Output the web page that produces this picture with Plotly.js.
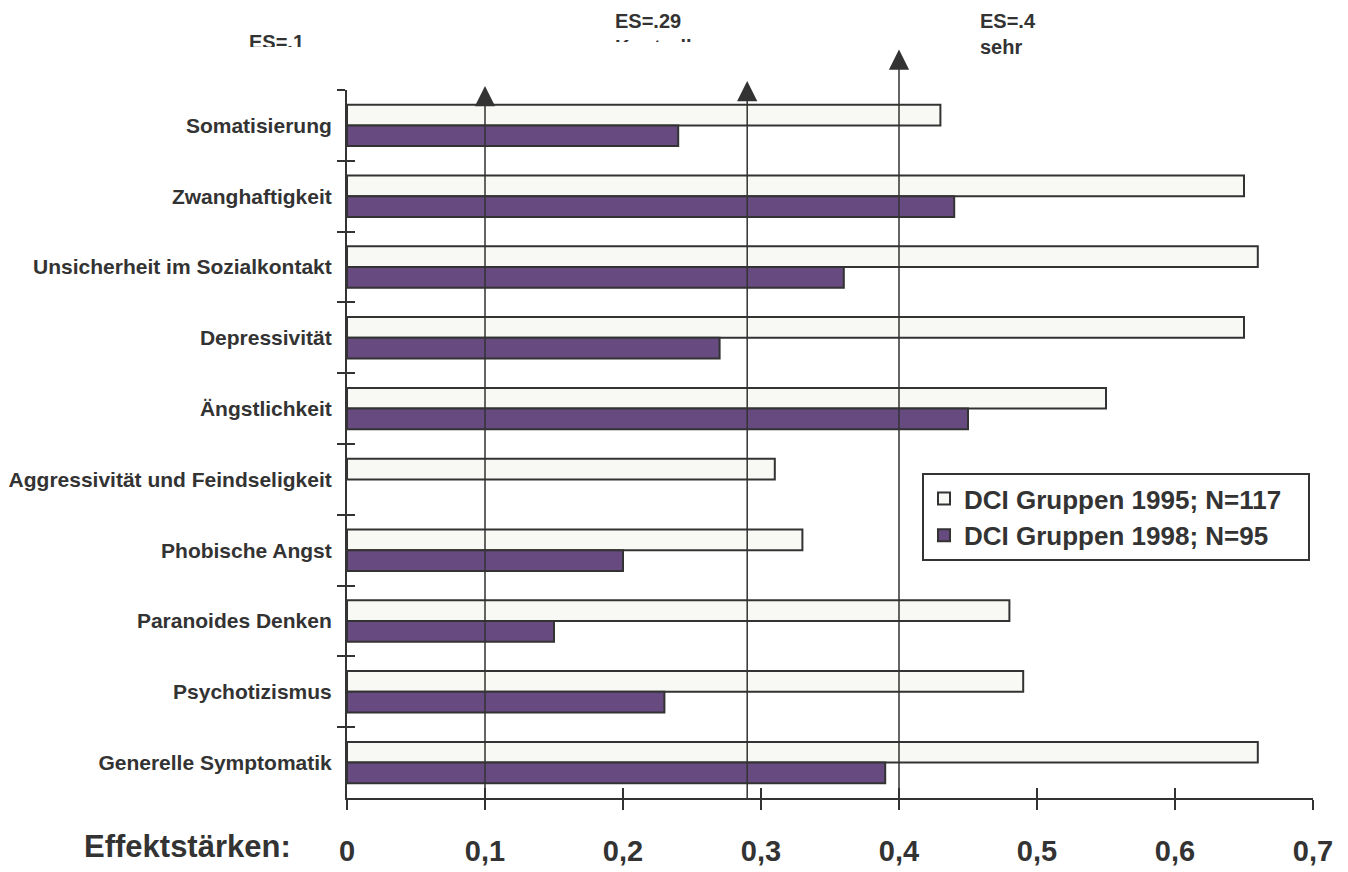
<!DOCTYPE html>
<html>
<head>
<meta charset="utf-8">
<script src="https://cdn.plot.ly/plotly-3.0.1.min.js"></script>
<style>
  html, body { margin: 0; padding: 0; background: #ffffff; }
  #chart { width: 1348px; height: 872px; }
</style>
</head>
<body>
<div id="chart"></div>
<script>
// SCL-90 subscales, top to bottom
const categories = [
  'Somatisierung',
  'Zwanghaftigkeit',
  'Unsicherheit im Sozialkontakt',
  'Depressivität',
  'Ängstlichkeit',
  'Aggressivität und Feindseligkeit',
  'Phobische Angst',
  'Paranoides Denken',
  'Psychotizismus',
  'Generelle Symptomatik'
];

// effect sizes per subscale
const es1995 = [0.43, 0.65, 0.66, 0.65, 0.55, 0.31, 0.33, 0.48, 0.49, 0.66];
const es1998 = [0.24, 0.44, 0.36, 0.27, 0.45, null, 0.20, 0.15, 0.23, 0.39];

const seriesNames = ['DCI Gruppen 1995; N=117', 'DCI Gruppen 1998; N=95'];

// x axis ticks (German decimal comma)
const xTickVals = [0, 0.1, 0.2, 0.3, 0.4, 0.5, 0.6, 0.7];
const xTickText = ['0', '0,1', '0,2', '0,3', '0,4', '0,5', '0,6', '0,7'];

// benchmark effect sizes drawn as arrows
const refValues = [0.1, 0.29, 0.4];
const refLabels = ['ES=.1', 'ES=.29<br>Kontrollgruppe', 'ES=.4<br>sehr'];

const INK = '#333333';
const FONT = 'Liberation Sans, Arial, sans-serif';
const bold = (size) => ({ family: FONT, size: size, color: INK, weight: 700 });
const NBSP = '\u00a0';

const traces = [
  {
    type: 'bar', orientation: 'h',
    name: seriesNames[0] + NBSP.repeat(3), legendgroup: 'a',
    x: es1995, y: categories,
    marker: { color: '#f8f8f5', line: { color: INK, width: 2 } },
    hoverinfo: 'skip'
  },
  {
    type: 'bar', orientation: 'h',
    name: seriesNames[1], legendgroup: 'b',
    x: es1998, y: categories,
    marker: { color: '#674a80', line: { color: INK, width: 2 } },
    hoverinfo: 'skip'
  },
  // empty carriers so the overlay axes (inner halves of the crossing ticks) get drawn
  { type: 'scatter', mode: 'markers', x: [], y: [], xaxis: 'x2', yaxis: 'y',
    showlegend: false, hoverinfo: 'skip' },
  { type: 'scatter', mode: 'markers', x: [], y: [], xaxis: 'x', yaxis: 'y2',
    showlegend: false, hoverinfo: 'skip' }
];

// category boundaries for the crossing ticks
const boundaries = categories.map((_, i) => i - 0.5).concat([categories.length - 0.5]);

// plot area geometry helpers (px -> paper)
const W = 1348, H = 872;
const M = { l: 347, r: 35, t: 90, b: 74 };
const plotW = W - M.l - M.r, plotH = H - M.t - M.b;
const px = (x) => (x - M.l) / plotW;
const py = (y) => (H - M.b - y) / plotH;

const annotations = [];

// arrows for benchmark effect sizes
const arrowTips = [86, 81, 49.5];
const arrowTails = [809, 801, 801];
refValues.forEach((v, i) => {
  annotations.push({
    xref: 'x', yref: 'paper', x: v, y: py(arrowTips[i]),
    ax: 0, ay: arrowTails[i] - arrowTips[i],
    text: '', showarrow: true,
    arrowhead: 2, arrowsize: 2.7, arrowwidth: 1.5, arrowcolor: INK, standoff: 0
  });
});

// benchmark labels
const labelLeft = [247, 613, 978];
const labelMid = [42, 33.5, 33.5];
refLabels.forEach((t, i) => {
  annotations.push({
    xref: 'paper', yref: 'paper', x: px(labelLeft[i]), y: py(labelMid[i]),
    xanchor: 'left', yanchor: 'middle', align: 'left',
    text: t, showarrow: false, font: bold(20)
  });
});

// white panels that hide the lower part of the first two label boxes
annotations.push({
  xref: 'paper', yref: 'paper', x: px(285), y: py(57),
  xanchor: 'center', yanchor: 'middle', width: 100, height: 20,
  text: ' ', showarrow: false, bgcolor: '#ffffff', borderpad: 0, borderwidth: 0
});
annotations.push({
  xref: 'paper', yref: 'paper', x: px(710), y: py(56),
  xanchor: 'center', yanchor: 'middle', width: 230, height: 28,
  text: ' ', showarrow: false, bgcolor: '#ffffff', borderpad: 0, borderwidth: 0
});

// x axis caption
annotations.push({
  xref: 'paper', yref: 'paper', x: px(293), y: py(847),
  xanchor: 'right', yanchor: 'middle',
  text: 'Effektstärken:', showarrow: false, font: bold(31)
});

const layout = {
  width: W, height: H,
  margin: M,
  paper_bgcolor: '#ffffff', plot_bgcolor: '#ffffff',
  barmode: 'group', bargap: 0.415, bargroupgap: 0,
  showlegend: true,
  legend: {
    x: px(922), y: py(473), xanchor: 'left', yanchor: 'top',
    bgcolor: '#ffffff', bordercolor: INK, borderwidth: 2,
    font: bold(26), traceorder: 'grouped', tracegroupgap: 0,
    itemclick: false, itemdoubleclick: false
  },
  xaxis: {
    range: [0, 0.7], tickvals: xTickVals, ticktext: xTickText,
    ticks: 'outside', ticklen: 10, tickwidth: 2, tickcolor: INK,
    showline: true, linewidth: 2, linecolor: INK,
    showgrid: false, zeroline: false,
    tickfont: bold(29), ticklabelstandoff: 16, fixedrange: true
  },
  xaxis2: {
    overlaying: 'x', anchor: 'y', side: 'bottom',
    range: [0, 0.7], tickvals: xTickVals,
    ticks: 'inside', ticklen: 10, tickwidth: 2, tickcolor: INK,
    showticklabels: false, showline: false, showgrid: false, zeroline: false, fixedrange: true
  },
  yaxis: {
    type: 'category', categoryorder: 'array', categoryarray: categories,
    range: [categories.length - 0.5, -0.5],
    ticks: 'outside', tickson: 'boundaries', ticklen: 8, tickwidth: 2, tickcolor: INK,
    showline: true, linewidth: 2, linecolor: INK,
    showgrid: false, zeroline: false,
    tickfont: bold(21), ticklabelstandoff: 9, fixedrange: true
  },
  yaxis2: {
    overlaying: 'y', anchor: 'x', side: 'left',
    range: [categories.length - 0.5, -0.5], tickvals: boundaries,
    ticks: 'inside', ticklen: 8, tickwidth: 2, tickcolor: INK,
    showticklabels: false, showline: false, showgrid: false, zeroline: false, fixedrange: true
  },
  annotations: annotations
};

Plotly.newPlot('chart', traces, layout, { displayModeBar: false, staticPlot: true });
</script>
</body>
</html>
